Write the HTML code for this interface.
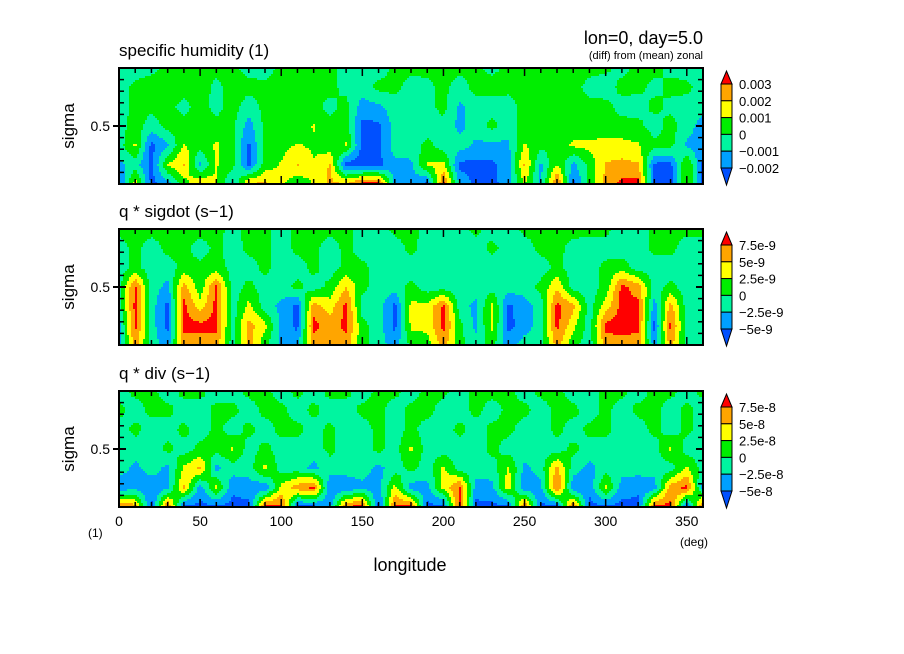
<!DOCTYPE html>
<html><head><meta charset="utf-8"><style>
html,body{margin:0;padding:0;background:#fff;}
svg{display:block;font-family:"Liberation Sans",sans-serif;}
</style></head><body>
<svg id="chart" width="904" height="654" viewBox="0 0 904 654">
<rect x="0" y="0" width="904" height="654" fill="#fff"/>
<text x="703" y="44" font-size="18" text-anchor="end">lon=0, day=5.0</text>
<text x="703" y="59" font-size="11" text-anchor="end">(diff) from (mean) zonal</text>
<text x="410" y="571" font-size="18" text-anchor="middle">longitude</text>
<text x="88" y="537" font-size="12">(1)</text>
<text x="680" y="546" font-size="12">(deg)</text>
</svg>
<script>
const lons=[0,10,20,30,40,50,60,70,80,90,100,110,120,130,140,150,160,170,180,190,200,210,220,230,240,250,260,270,280,290,300,310,320,330,340,350,360];
const sigmas=[0,1/6,2/6,3/6,4/6,5/6,1];
const xTicks=[0,50,100,150,200,250,300,350];
const humidity=[
[-0.5,-0.5,-0.3,0.3,0.5,0.3,0.3,0.2,-0.3,-0.5,0.3,0.5,0.3,0.2,-0.3,-0.5,-0.5,0.2,0.3,0.3,0.5,0.3,0.2,-0.3,0.3,0.5,0.5,0.3,0.5,0.3,0.2,-0.3,0.3,0.3,-0.3,-0.5,-0.5],
[-0.5,0.3,0.5,0.5,0.4,0.5,-0.3,0.5,0.3,0.3,0.5,0.3,0.3,0.3,-0.3,-0.5,0.3,0.3,-0.4,-0.3,0.3,-0.5,0.4,0.5,0.3,0.5,0.5,0.5,0.3,-0.3,-0.5,0.3,0.3,-0.3,0.3,0.3,-0.5],
[-0.5,0.3,0.3,0.3,-0.3,0.4,-0.3,0.4,-0.5,0.3,0.3,0.4,0.3,-0.3,0.3,-1.5,-1.2,-0.5,-0.5,-0.3,0.3,-1.2,-0.5,-0.5,-0.5,0.4,0.4,0.5,0.5,0.3,0.3,-0.4,-0.5,0.3,-0.3,-0.5,-0.5],
[-0.5,0.5,-0.5,0.4,0.3,0.5,0.3,0.3,-1.5,0.3,0.5,0.3,1.1,0.3,0.5,-2.3,-2.2,-0.6,-0.5,-0.5,-0.3,-1.3,-0.5,0.3,-0.5,0.4,0.5,0.5,0.5,0.3,0.5,0.4,0.3,-0.5,0.4,-0.5,-1.5],
[-0.5,1.2,-2.3,-1.2,1.1,0.4,1.2,0.3,-2.2,0.3,0.6,1.1,0.8,0.3,1.1,-2.3,-2.2,-0.5,-0.5,0.3,-0.5,-0.5,-1.2,-1.3,-1.2,1.1,0.3,0.3,1.2,1.3,1.3,1.3,1.1,0.3,0.3,-1.2,-1.5],
[-1.3,-0.5,-2.3,1.1,2.1,-1.3,1.1,0.3,-2.3,0.5,1.1,2.1,1.1,2.1,-2.5,-2.5,-2.3,-1.3,-1.2,1.1,1.3,-2.3,-2.3,-2.2,-1.5,2.2,-1.2,1.1,-1.3,0.3,2.1,2.3,2.1,-2.2,-2.3,1.1,-2.3],
[-2.2,1.5,-2.3,-1.5,0.5,2.2,1.1,-1.2,2.1,2.2,1.2,0.3,1.1,2.2,2.1,3.3,3.3,-1.3,-1.3,-2.3,3.3,-1.3,-2.3,-2.3,-1.5,1.1,-1.3,3.3,-2.3,0.3,2.3,3.3,3.4,-2.3,-2.4,1.1,-2.3]];
const sigdot=[
[0.3,0.5,0.4,0.3,0.3,0.5,0.3,-0.3,0.3,0.3,-0.5,0.3,0.4,0.3,0.3,-0.5,-0.5,0.3,0.3,-0.3,-0.5,-0.3,0.3,-0.5,-0.5,0.3,0.3,0.4,0.5,0.3,0.3,-0.5,-0.5,0.3,0.3,0.3,0.3],
[-0.5,0.3,-0.5,0.3,0.3,-0.5,0.3,-0.5,0.3,0.3,-0.5,0.3,0.3,-0.5,0.3,-0.5,-0.5,-0.5,0.3,-0.5,-0.5,-0.5,-0.5,0.3,-0.5,-0.5,0.3,0.4,-0.5,-0.5,-0.5,-0.5,-0.5,0.3,0.3,-0.5,-0.5],
[-0.5,0.3,-0.5,-0.5,0.3,0.3,0.4,-0.3,-0.5,0.3,-0.5,-0.5,0.3,-0.5,0.3,0.3,-0.5,-0.5,-0.5,-0.5,-0.5,-0.5,-0.5,-0.5,-0.5,-0.5,-0.5,0.3,-0.5,-0.5,0.3,0.5,-0.5,-0.5,-0.5,-0.5,-0.5],
[-0.5,3.2,-0.5,-1.3,2.5,0.3,3.3,-0.5,0.3,-0.5,-0.5,0.3,-0.5,0.3,2.0,0.3,-0.5,-0.5,0.3,-0.5,-0.5,-0.5,-0.5,-0.5,-0.5,-0.5,0.3,1.8,-0.5,-0.5,0.3,3.3,2.5,-0.5,0.3,-0.5,-0.5],
[-0.5,3.3,-0.5,-2.3,3.3,1.5,3.3,-0.5,1.3,-0.5,-1.3,-2.3,2.6,1.5,3.3,-0.5,-0.5,-2.3,1.3,1.3,3.2,-0.5,-1.3,1.3,-2.2,-1.5,-0.5,3.3,2.3,-0.5,1.5,3.4,3.3,-1.5,2.5,-0.5,-0.5],
[-1.5,3.3,-0.5,-2.3,3.3,3.3,3.3,-0.5,2.4,1.3,-1.3,-2.3,3.3,2.5,3.3,0.3,-0.5,-2.3,1.2,1.3,3.3,0.3,-1.3,1.3,-2.3,-1.5,-0.5,3.3,1.3,-0.5,3.3,3.4,3.3,-2.3,3.3,-0.5,-0.5],
[-1.3,2.5,-0.5,-1.5,2.5,2.5,2.5,-0.5,2.5,0.3,-1.3,-1.3,2.5,2.5,2.5,0.3,-0.5,-1.5,0.3,0.5,2.5,0.3,-0.5,0.3,-1.5,-0.5,-0.5,2.5,0.3,-0.5,2.5,2.6,2.5,-1.5,2.5,-0.5,-0.5]];
const divergence=[
[-0.5,0.3,0.3,-0.5,0.3,0.3,-0.5,-0.5,0.3,0.3,-0.5,0.3,-0.5,0.3,0.3,-0.5,0.3,0.3,-0.5,0.3,0.3,-0.5,0.3,0.4,0.3,-0.5,0.3,0.3,-0.5,-0.5,0.3,0.3,-0.5,0.3,0.3,-0.5,0.3],
[0.3,-0.5,0.3,0.3,-0.5,-0.5,0.3,0.3,-0.5,0.3,0.3,-0.5,0.3,-0.5,-0.5,0.3,0.3,-0.5,0.3,0.4,-0.5,-0.5,0.3,-0.5,0.3,0.3,-0.5,0.3,0.3,-0.5,0.3,-0.5,0.3,0.3,-0.5,0.3,-0.5],
[-0.5,0.3,-0.5,-0.5,0.3,-0.5,0.3,-0.5,0.3,-0.5,0.3,0.3,-0.5,0.3,-0.5,-0.5,0.3,-0.5,0.3,-0.5,-0.5,0.3,-0.5,0.3,0.3,-0.5,-0.5,0.3,-0.5,0.3,0.3,-0.5,-0.5,0.3,-0.5,0.3,-0.5],
[-0.5,-0.5,-0.5,0.3,-0.5,0.3,0.3,1.2,-0.5,0.3,-0.5,-0.5,-0.5,0.3,-0.5,-0.5,0.3,-0.5,1.2,-0.5,-0.5,-0.5,-0.5,0.3,-0.5,-0.5,-0.5,-0.5,0.3,-0.5,-0.5,-0.5,-0.5,-0.5,1.2,-0.5,-0.5],
[-0.5,-1.3,-0.5,-1.3,1.2,2.2,-1.3,-0.5,-0.5,1.3,-0.5,-0.5,-1.3,-0.5,-0.5,-0.5,-1.3,-0.5,0.3,-0.5,1.2,-0.5,-0.5,-0.5,1.2,-1.3,-0.5,2.3,-0.5,-1.3,-0.5,-0.5,-0.5,-0.5,-0.5,1.2,-0.5],
[-1.8,-1.3,-1.8,-1.3,2.2,-1.5,1.3,-1.8,-1.5,-1.8,1.3,2.5,3.3,-1.8,-1.8,-1.3,-1.5,1.3,-1.5,-1.3,1.3,3.2,-1.5,-1.3,1.5,-1.8,-1.3,3.3,-1.8,-1.8,1.3,-1.5,-1.8,-1.5,2.5,3.3,-1.5],
[3.3,2.5,-2.3,3.3,-2.3,-2.3,-2.3,-2.3,-2.3,3.3,3.3,-2.3,-2.3,-1.5,3.2,3.3,-2.3,3.3,3.3,-2.3,-2.3,3.3,-2.3,-2.3,-2.3,3.3,-2.3,-2.3,3.3,-2.3,-2.3,-2.3,-2.3,3.3,3.3,-2.3,3.3]];
const levels=[-2,-1,0,1,2,3];
const labels1=["0.003","0.002","0.001","0","\u22120.001","\u22120.002"];
const labels2=["7.5e-9","5e-9","2.5e-9","0","\u22122.5e-9","\u22125e-9"];
const labels3=["7.5e-8","5e-8","2.5e-8","0","\u22122.5e-8","\u22125e-8"];
const colors=["#0050ff","#00a0ff","#00f5a0","#00ee00","#ffff00","#ffa500","#ff0000"];

const NS="http://www.w3.org/2000/svg";
const svg=document.getElementById('chart');
const X0=119,X1=703;
function xs(lon){return X0+(lon/360)*(X1-X0);}
function mk(tag,attrs,parent){const e=document.createElementNS(NS,tag);for(const k in attrs)e.setAttribute(k,attrs[k]);(parent||svg).appendChild(e);return e;}
function colorIndex(v){let i=0;while(i<levels.length&&v>=levels[i])i++;return i;}
function sample(grid,lon,sg){
  let fi=lon/10;let i=Math.min(Math.floor(fi),lons.length-2);let tx=fi-i;
  let fj=sg*(sigmas.length-1);let j=Math.min(Math.floor(fj),sigmas.length-2);let ty=fj-j;
  const a=grid[j][i],b=grid[j][i+1],c=grid[j+1][i],d=grid[j+1][i+1];
  return (a*(1-tx)+b*tx)*(1-ty)+(c*(1-tx)+d*tx)*ty;
}
function panel(name,grid,top,title,labels){
  const Y0=top,Y1=top+116;
  const ys=s=>Y0+s*(Y1-Y0);
  const g=mk('g',{});
  
  
  const step=2;
  for(let py=Y0;py<Y1;py+=step){
    const sg=(py+step/2-Y0)/(Y1-Y0);
    let runStart=X0,runCol=-1;
    for(let px=X0;px<=X1;px+=step){
      let col=-1;
      if(px<X1){const lon=(px+step/2-X0)/(X1-X0)*360;col=colorIndex(sample(grid,lon,sg));}
      if(col!==runCol){
        if(runCol>=0){
          const r=mk('rect',{x:runStart,y:py,width:Math.min(px,X1)-runStart+0.5,height:step+0.5,fill:colors[runCol]},g);
          
          
        }
        runStart=px;runCol=col;
      }
    }
  }
  for(let l=0;l<=360;l+=10){
    const len=(l%50===0)?8:5;const x=xs(l);
    mk('line',{x1:x,y1:Y0,x2:x,y2:Y0+len,stroke:'#000','stroke-width':1.5},g);
    mk('line',{x1:x,y1:Y1,x2:x,y2:Y1-len,stroke:'#000','stroke-width':1.5},g);
  }
  for(let s=0.1;s<0.99;s+=0.1){
    const y=ys(s);
    mk('line',{x1:X0,y1:y,x2:X0+5,y2:y,stroke:'#000','stroke-width':1.5},g);
    mk('line',{x1:X1,y1:y,x2:X1-5,y2:y,stroke:'#000','stroke-width':1.5},g);
  }
  mk('line',{x1:X0-6,y1:ys(0.5),x2:X0+7,y2:ys(0.5),stroke:'#000','stroke-width':2},g);
  mk('line',{x1:X1-7,y1:ys(0.5),x2:X1,y2:ys(0.5),stroke:'#000','stroke-width':2},g);
  const fr=mk('rect',{x:X0,y:Y0,width:X1-X0,height:Y1-Y0,fill:'none',stroke:'#000','stroke-width':2},g);
  
  
  const t=mk('text',{x:119,y:Y0-12,'font-size':17},g);t.textContent=title;
  
  
  const yl=mk('text',{x:74,y:ys(0.5),'font-size':17,'text-anchor':'middle',transform:`rotate(-90 74 ${ys(0.5)})`},g);yl.textContent='sigma';
  
  
  const tl=mk('text',{x:110,y:ys(0.5)+5,'font-size':14,'text-anchor':'end'},g);tl.textContent='0.5';
  
  
  const cb=mk('g',{},g);
  
  
  const bx=721,bw=11,b0=top+16,bs=16.8;
  const lvY=k=>b0+k*bs;
  mk('polygon',{points:`${bx},${lvY(0)} ${bx+bw/2},${top+3} ${bx+bw},${lvY(0)}`,fill:colors[6],stroke:'#000','stroke-width':1},cb);
  for(let k=0;k<5;k++){
    mk('rect',{x:bx,y:lvY(k),width:bw,height:bs,fill:colors[5-k],stroke:'#000','stroke-width':1},cb);
  }
  mk('polygon',{points:`${bx},${lvY(5)} ${bx+bw/2},${Y1+1} ${bx+bw},${lvY(5)}`,fill:colors[0],stroke:'#000','stroke-width':1},cb);
  labels.forEach((lb,k)=>{
    const tx=mk('text',{x:739,y:lvY(k)+5,'font-size':13},cb);tx.textContent=lb;
    
    
  });
}
panel('humidity',humidity,68,'specific humidity (1)',labels1);
panel('sigdot',sigdot,229,'q * sigdot (s\u22121)',labels2);
panel('divergence',divergence,391,'q * div (s\u22121)',labels3);
xTicks.forEach(v=>{
  const t=mk('text',{x:xs(v),y:526,'font-size':14,'text-anchor':'middle'});t.textContent=String(v);
  
  
});
</script>
</body></html>
